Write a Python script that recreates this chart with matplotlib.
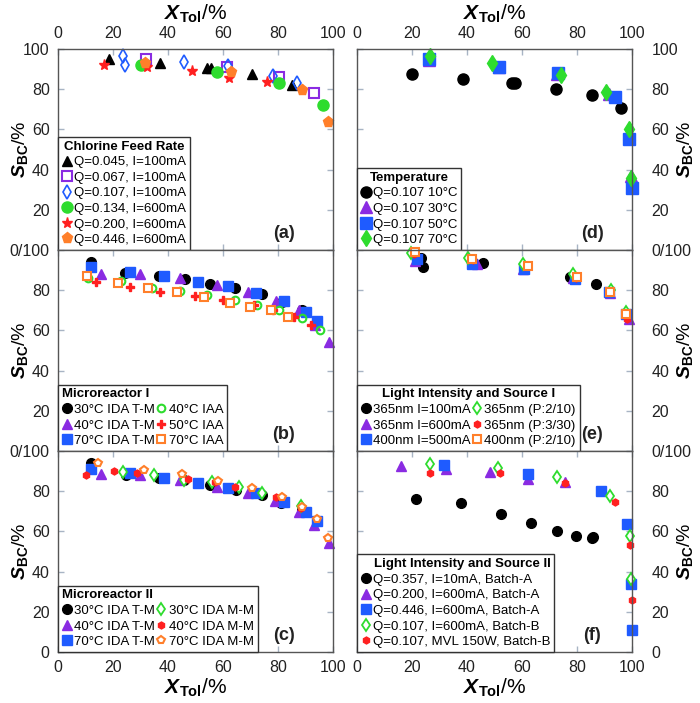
import matplotlib
matplotlib.use('Agg')
import matplotlib.pyplot as plt

plt.rcParams['font.family'] = ['Liberation Sans', 'DejaVu Sans']
plt.rcParams['mathtext.fontset'] = 'custom'
plt.rcParams['mathtext.rm'] = 'Liberation Sans'
plt.rcParams['mathtext.bf'] = 'Liberation Sans:bold'
plt.rcParams['mathtext.it'] = 'Liberation Sans:italic'
plt.rcParams['mathtext.bfit'] = 'Liberation Sans:italic:bold'

# (a) chlorine feed rate
a_title = 'Chlorine Feed Rate'
a_labels = ['Q=0.045, I=100mA', 'Q=0.067, I=100mA', 'Q=0.107, I=100mA',
            'Q=0.134, I=600mA', 'Q=0.200, I=600mA', 'Q=0.446, I=600mA']
a_x = [[18.5, 37, 54, 55.5, 70.5, 85],
       [32, 61.5, 80.5, 93],
       [23.6, 24.4, 45.9, 61.7, 78.3, 87],
       [30.2, 57.9, 80.4, 96.5],
       [16.6, 32.5, 48.8, 62.3, 75.9, 88.6],
       [31.6, 62.9, 88.6, 98.3]]
a_y = [[95.3, 93.3, 90.5, 90.5, 87.5, 82.2],
       [95.3, 91.3, 86.2, 78.3],
       [96.3, 92, 93.8, 91.7, 86.7, 83.3],
       [92, 88.7, 83.3, 72],
       [92.2, 91.2, 89.2, 85.8, 83.8, 79.7],
       [93.3, 88.8, 79.7, 63.7]]

# (b) microreactor I
b_title = 'Microreactor I'
b_labels = ['30°C IDA T-M', '40°C IDA T-M', '70°C IDA T-M',
            '40°C IAA', '50°C IAA', '70°C IAA']
b_x = [[12, 24.5, 36.8, 46.2, 55.2, 64.5, 74.3, 81.3, 88.6],
       [15.5, 29.7, 44.4, 57.8, 69.1, 79.2, 87.7, 93.3, 98.7],
       [12, 26.2, 38.4, 50.8, 61.8, 72.1, 82, 90, 94.3],
       [10.8, 23, 34.1, 44.2, 54.2, 64.2, 72.2, 80.5, 88.8, 95.2],
       [13.7, 26.1, 37, 49.9, 59.9, 71.2, 78.2, 85.9, 91.9],
       [10.7, 21.8, 32.8, 43.2, 53, 62.5, 69.8, 77.3, 83.5]]
b_y = [[94, 88.4, 86.9, 85.4, 83.3, 81.3, 78, 74.3, 70.1],
       [88.3, 88.3, 85.9, 82.4, 79.1, 74.6, 70, 62.7, 54.2],
       [91.5, 89.1, 86.9, 84.1, 81.9, 78.8, 74.5, 69.4, 64.7],
       [86.3, 84.6, 80.9, 79.6, 77.6, 75.3, 72.6, 70, 66.4, 60],
       [84.1, 81.8, 79.1, 77.3, 75.1, 72.8, 70, 66.9, 62.9],
       [87.1, 83.4, 81.3, 79.1, 76.6, 73.6, 71.6, 70, 66.9]]

# (c) microreactor II
c_title = 'Microreactor II'
c_labels = ['30°C IDA T-M', '40°C IDA T-M', '70°C IDA T-M',
            '30°C IDA M-M', '40°C IDA M-M', '70°C IDA M-M']
c_x = [[12, 24.6, 36.8, 45.9, 55.3, 64.6, 74.3, 81.2, 88.6],
       [15.5, 29.7, 44.4, 57.8, 69.1, 78.9, 87.5, 93, 98.7],
       [12, 26.2, 38.4, 50.8, 61.8, 72.1, 82.1, 90.1, 94.3],
       [23.7, 35, 45.9, 56.1, 65.7, 74.3, 88.3],
       [10.1, 20.2, 28.7, 47.3, 57, 64.5, 79.4, 88.4],
       [14.7, 31.2, 45.2, 58.3, 70.4, 81.6, 88.6, 94.2, 98.3]]
c_y = [[94.1, 88, 86.7, 85.5, 83.2, 80.8, 77.9, 74.2, 70.9],
       [88.5, 88.2, 85.7, 82.2, 79.2, 75, 69.9, 63.1, 54],
       [91.1, 89, 86.7, 84.2, 81.8, 78.9, 74.7, 69.6, 65.1],
       [89.8, 88, 85.8, 84.5, 82, 79.2, 72.5],
       [88.3, 90, 89.2, 86, 84.5, 82, 77.2, 71.7],
       [94.1, 90.6, 88.7, 85, 81.7, 77, 72.2, 66.4, 56.5]]

# (d) temperature
d_title = 'Temperature'
d_labels = ['Q=0.107 10°C', 'Q=0.107 30°C', 'Q=0.107 50°C', 'Q=0.107 70°C']
d_x = [[20.1, 38.7, 56.5, 57.5, 72.2, 85.3, 95.9],
       [26.3, 51.7, 72.8, 91.5, 99, 99.5],
       [26.3, 51.7, 73.2, 93.8, 99, 99.9],
       [26.6, 49.2, 74.1, 90.5, 99, 99.6]]
d_y = [[87.5, 85.3, 83.2, 83, 80.3, 77, 70.5],
       [94.7, 91.2, 87.8, 77.8, 57.8, 36.7],
       [95, 91.3, 88.3, 76, 55.5, 30.8],
       [96.7, 93.3, 87.3, 78.8, 60, 35.8]]

# (e) light intensity and source I
e_title = 'Light Intensity and Source I'
e_labels = ['365nm I=100mA', '365nm I=600mA', '400nm I=500mA',
            '365nm (P:2/10)', '365nm (P:3/30)', '400nm (P:2/10)']
e_x = [[23.3, 24.1, 45.7, 77.5, 86.8],
       [21, 43.5, 60.5, 78.7, 92, 98.8],
       [21.7, 41.7, 60.8, 79.3, 91.7, 97.8],
       [19.8, 40.5, 60.4, 78.5, 92.2, 97.8],
       [20.6, 42.3, 61.7, 79.6, 92, 98.3],
       [21.1, 41.7, 62.3, 80, 92, 97.8]]
e_y = [[96.2, 91.7, 93.7, 86.6, 82.9],
       [94.5, 93.2, 90.4, 85.9, 78.8, 65.5],
       [95.7, 93.2, 90.4, 85.4, 79, 68],
       [98.7, 96.2, 93.2, 88.3, 79.9, 69],
       [97.9, 95.2, 91.9, 86.3, 79, 65.5],
       [98.9, 95.7, 92, 86.8, 79.3, 68]]

# (f) light intensity and source II
f_title = 'Light Intensity and Source II'
f_labels = ['Q=0.357, I=10mA, Batch-A', 'Q=0.200, I=600mA, Batch-A',
            'Q=0.446, I=600mA, Batch-A', 'Q=0.107, I=600mA, Batch-B',
            'Q=0.107, MVL 150W, Batch-B']
f_x = [[21.6, 37.9, 52.5, 63.3, 72.9, 79.8, 85.5, 85.9],
       [16.1, 32.4, 48.5, 62.1, 75.8],
       [31.5, 62.2, 88.6, 98.1, 99.6, 99.9],
       [26.5, 51.4, 72.6, 92, 99.2, 99.6],
       [26.5, 51.9, 75.8, 93.9, 99.4, 99.9]]
f_y = [[75.9, 73.9, 68.9, 64.1, 60.1, 57.8, 56.5, 57],
       [92.8, 91.1, 89.7, 86.3, 84.5],
       [93.1, 88.8, 79.9, 63.8, 33.7, 10.8],
       [93.6, 91.4, 87.2, 77.4, 57.6, 36.4],
       [89, 89.3, 84.2, 74.5, 53.1, 26.1]]

BLACK = 'black'
PURPLE = '#8a2be2'
BLUE = '#1f5bff'
GREEN = '#2edc2e'
RED = '#ff2020'
ORANGE = '#ff7f2a'

blk = dict(marker='o', color=BLACK, ms=7)
pur = dict(marker='^', color=PURPLE, ms=7)
blu = dict(marker='s', color=BLUE, ms=7)

a_st = [dict(marker='^', color=BLACK, ms=7),
        dict(marker='s', mfc='none', mec=PURPLE, mew=1.5, ms=7),
        dict(marker='d', mfc='none', mec=BLUE, mew=1.2, ms=7),
        dict(marker='o', color=GREEN, ms=8),
        dict(marker='*', color=RED, ms=8),
        dict(marker='p', color=ORANGE, ms=8)]
b_st = [blk, pur, blu,
        dict(marker='o', mfc='none', mec=GREEN, mew=1.5, ms=5.5),
        dict(marker='P', color=RED, ms=5.5),
        dict(marker='s', mfc='white', mec=ORANGE, mew=1.5, ms=6)]
c_st = [blk, pur, blu,
        dict(marker='d', mfc='white', mec=GREEN, mew=1.3, ms=6),
        dict(marker='h', color=RED, ms=5),
        dict(marker='p', mfc='white', mec=ORANGE, mew=1.5, ms=6)]
d_st = [dict(marker='o', color=BLACK, ms=8),
        dict(marker='^', color=PURPLE, ms=8),
        dict(marker='s', color=BLUE, ms=8),
        dict(marker='d', color=GREEN, ms=8)]
e_st = [blk, pur, blu,
        dict(marker='d', mfc='white', mec=GREEN, mew=1.3, ms=6),
        dict(marker='h', color=RED, ms=5),
        dict(marker='s', mfc='white', mec=ORANGE, mew=1.5, ms=6)]
f_st = [blk, pur, blu,
        dict(marker='d', mfc='white', mec=GREEN, mew=1.3, ms=6),
        dict(marker='h', color=RED, ms=5)]

xlab = r'$\mathbfit{X}_{\mathbf{Tol}}$/%'
ylab = r'$\mathbfit{S}_{\mathbf{BC}}$/%'

fig = plt.figure(figsize=(7, 7.03), dpi=100)
lefts = [58 / 700, 357 / 700]
bottoms = [0.6443, 0.3584, 0.0725]
w = 275 / 700
h = 201 / 703

panels = [
    (0, 0, a_x, a_y, a_labels, a_st, a_title, 1, 'center', '(a)'),
    (1, 0, b_x, b_y, b_labels, b_st, b_title, 2, 'left', '(b)'),
    (2, 0, c_x, c_y, c_labels, c_st, c_title, 2, 'left', '(c)'),
    (0, 1, d_x, d_y, d_labels, d_st, d_title, 1, 'center', '(d)'),
    (1, 1, e_x, e_y, e_labels, e_st, e_title, 2, 'center', '(e)'),
    (2, 1, f_x, f_y, f_labels, f_st, f_title, 1, 'right', '(f)'),
]

ytl = [['0/100', '20', '40', '60', '80', '100'],
       ['0/100', '20', '40', '60', '80', ''],
       ['0', '20', '40', '60', '80', '']]

for row, col, xs, ys, labels, styles, title, ncol, align, tag in panels:
    ax = fig.add_axes([lefts[col], bottoms[row], w, h])
    for x, y, lab, st in zip(xs, ys, labels, styles):
        ax.plot(x, y, ls='none', label=lab, clip_on=False, **st)
    ax.set_xlim(0, 100)
    ax.set_ylim(0, 100)
    ax.set_xticks(range(0, 101, 20))
    ax.set_yticks(range(0, 101, 20))
    ax.set_yticklabels(ytl[row])
    for s in ax.spines.values():
        s.set_color('#555555')
        s.set_linewidth(1.0)
    ax.tick_params(direction='in', color='#a8b4c4', length=4, width=1,
                   top=True, bottom=True, left=True, right=True,
                   labelsize=11.5, labelcolor='#222222',
                   labeltop=(row == 0), labelbottom=(row == 2),
                   labelleft=(col == 0), labelright=(col == 1))
    ax.tick_params(axis='x', pad=6)
    ax.tick_params(axis='y', which='both', pad=(6 if col == 0 else 14))
    if row == 0:
        ax.xaxis.set_label_position('top')
        ax.set_xlabel(xlab, fontsize=15)
        ax.xaxis.set_label_coords(0.5, 1.145)
    if row == 2:
        ax.set_xlabel(xlab, fontsize=15)
        ax.xaxis.set_label_coords(0.5, -0.125)
    ax.set_ylabel(ylab, fontsize=14)
    if col == 0:
        ax.yaxis.set_label_coords(-0.1, 0.5)
    else:
        ax.yaxis.set_label_position('right')
        ax.yaxis.set_label_coords(1.155, 0.5)

    leg = ax.legend(loc='lower left', bbox_to_anchor=(0, 0), borderaxespad=0,
                    ncol=ncol, title=title, fontsize=9.5,
                    title_fontproperties={'weight': 'bold', 'size': 9.5},
                    handlelength=0.7, handletextpad=0.2, labelspacing=0.25,
                    borderpad=0.3, columnspacing=0.15, fancybox=False,
                    edgecolor='#333333', framealpha=1, alignment=align)
    leg.get_frame().set_linewidth(1.0)

    tx = 0.82 if col == 0 else 0.855
    ax.text(tx, 0.08, tag, transform=ax.transAxes, ha='center', va='center',
            fontsize=13, fontweight='bold', color='#222222')

fig.savefig('out.png', dpi=100)
